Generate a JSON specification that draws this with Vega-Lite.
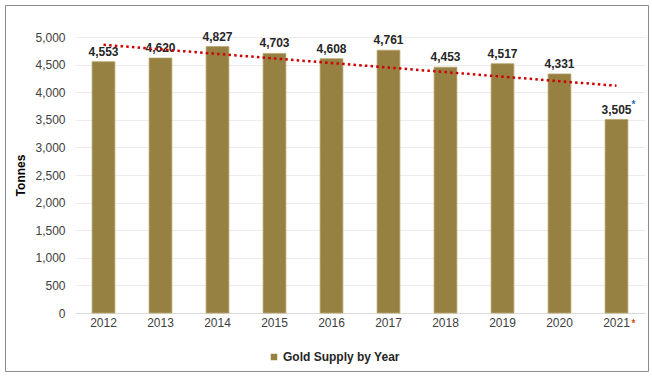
{
  "$schema": "https://vega.github.io/schema/vega-lite/v6.json",
  "width": 643,
  "height": 366,
  "autosize": {"type": "none"},
  "padding": {"left": 5, "top": 5, "right": 4, "bottom": 7},
  "background": "#ffffff",
  "config": {
    "view": {"stroke": "#8c8c8c", "strokeWidth": 1},
    "font": "Liberation Sans"
  },
  "data": {
    "values": [
      {"Year": "2012", "Tonnes": 4553, "Trend": 4859, "Note": ""},
      {"Year": "2013", "Tonnes": 4620, "Trend": 4776, "Note": ""},
      {"Year": "2014", "Tonnes": 4827, "Trend": 4694, "Note": ""},
      {"Year": "2015", "Tonnes": 4703, "Trend": 4611, "Note": ""},
      {"Year": "2016", "Tonnes": 4608, "Trend": 4529, "Note": ""},
      {"Year": "2017", "Tonnes": 4761, "Trend": 4447, "Note": ""},
      {"Year": "2018", "Tonnes": 4453, "Trend": 4364, "Note": ""},
      {"Year": "2019", "Tonnes": 4517, "Trend": 4282, "Note": ""},
      {"Year": "2020", "Tonnes": 4331, "Trend": 4199, "Note": ""},
      {"Year": "2021", "Tonnes": 3505, "Trend": 4117, "Note": "*"}
    ]
  },
  "resolve": {"axis": {"y": "independent"}},
  "encoding": {
    "x": {
      "field": "Year",
      "type": "ordinal",
      "scale": {"type": "band", "range": [70, 640], "paddingInner": 0.6, "paddingOuter": 0.3},
      "axis": {
        "title": null,
        "offset": -58,
        "labelAngle": 0,
        "labelFontSize": 12,
        "labelColor": "#404040",
        "labelPadding": 4,
        "ticks": false,
        "tickSize": 0,
        "domainColor": "#d9d9d9",
        "domainWidth": 1,
        "grid": false
      }
    }
  },
  "layer": [
    {
      "mark": {"type": "bar", "stroke": "#b9a66f", "strokeWidth": 0.8},
      "encoding": {
        "y": {
          "field": "Tonnes",
          "type": "quantitative",
          "scale": {"domain": [0, 5000], "range": [308, 32], "nice": false},
          "axis": {
            "title": "Tonnes",
            "titleFontSize": 12,
            "titleFontWeight": "bold",
            "titleColor": "#000000",
            "titlePadding": 7,
            "offset": -65,
            "values": [0, 500, 1000, 1500, 2000, 2500, 3000, 3500, 4000, 4500, 5000],
            "format": ",.0f",
            "labelOverlap": false,
            "labelFontSize": 12,
            "labelColor": "#404040",
            "labelPadding": 5,
            "ticks": false,
            "tickSize": 0,
            "domain": false,
            "grid": true,
            "gridColor": "#ececec",
            "gridWidth": 1
          }
        },
        "color": {
          "datum": "Gold Supply by Year",
          "type": "nominal",
          "scale": {"range": ["#978142"]},
          "legend": {
            "title": null,
            "orient": "none",
            "legendX": 263,
            "legendY": 346,
            "symbolType": "square",
            "symbolSize": 42,
            "symbolStrokeWidth": 0,
            "labelFontSize": 12,
            "labelFontWeight": "bold",
            "labelColor": "#262626",
            "labelOffset": 3,
            "padding": 0
          }
        }
      }
    },
    {
      "mark": {"type": "text", "fontSize": 12, "fontWeight": "bold", "color": "#262626", "baseline": "alphabetic", "dy": -6},
      "encoding": {
        "y": {"field": "Tonnes", "type": "quantitative", "axis": null},
        "text": {"field": "Tonnes", "type": "quantitative", "format": ","}
      }
    },
    {
      "mark": {"type": "line", "color": "#d00000", "strokeWidth": 2.5, "strokeDash": [2.5, 3.2]},
      "encoding": {
        "y": {"field": "Trend", "type": "quantitative", "axis": null}
      }
    },
    {
      "transform": [{"filter": "datum.Note == '*'"}],
      "mark": {"type": "text", "fontSize": 10, "fontWeight": "bold", "color": "#2e6fc0", "baseline": "middle", "dx": 17, "dy": -15},
      "encoding": {
        "y": {"field": "Tonnes", "type": "quantitative", "axis": null},
        "text": {"field": "Note"}
      }
    },
    {
      "transform": [{"filter": "datum.Note == '*'"}],
      "mark": {"type": "text", "fontSize": 10, "fontWeight": "bold", "color": "#d0501a", "baseline": "middle", "dx": 17, "dy": 11},
      "encoding": {
        "y": {"datum": 0, "type": "quantitative", "axis": null},
        "text": {"field": "Note"}
      }
    }
  ]
}
